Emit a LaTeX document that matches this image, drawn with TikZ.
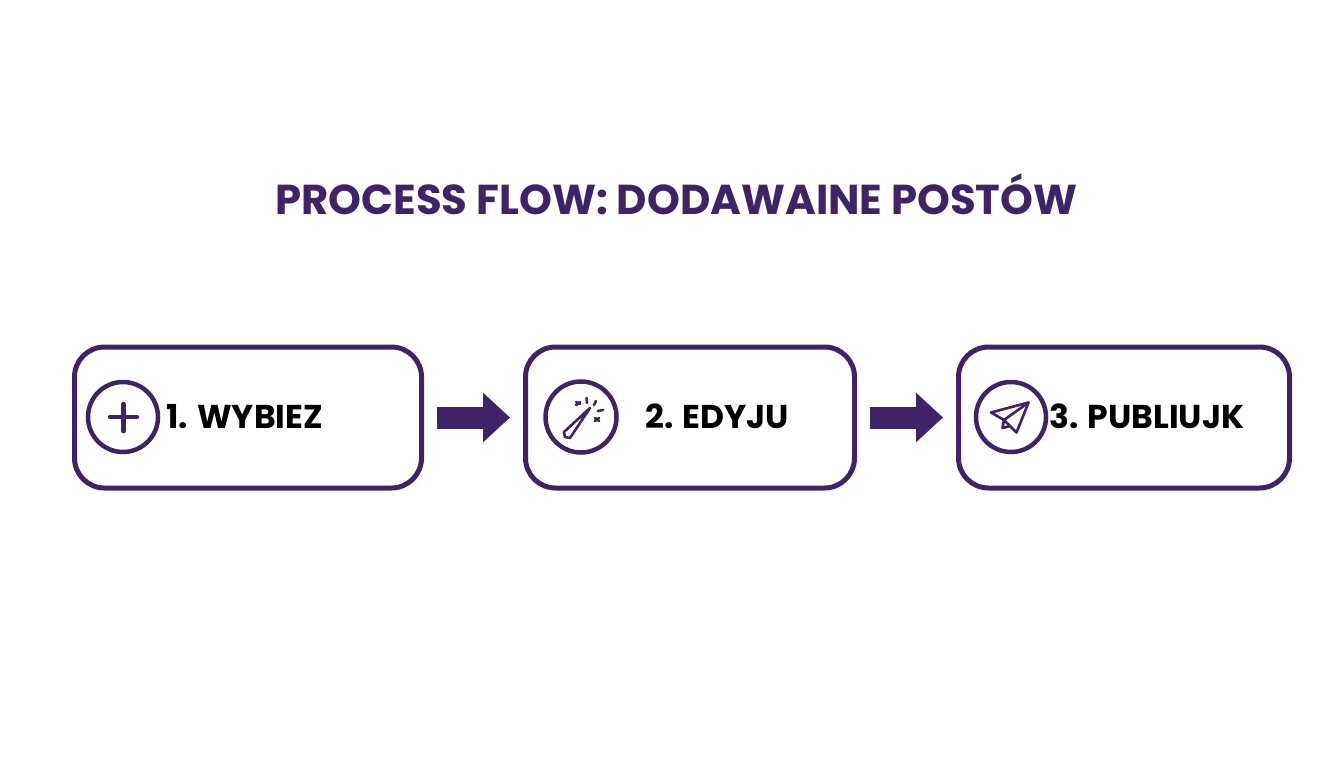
\documentclass[tikz,border=0pt]{standalone}
\usepackage{fontspec}
\setmainfont{Poppins}[BoldFont={Poppins Bold}]
\usetikzlibrary{arrows.meta}
\definecolor{flowpurple}{HTML}{3F2268}
\tikzstyle{stepbox}=[draw=flowpurple,line width=5pt,rounded corners=30pt,minimum height=141pt]
\tikzstyle{iconring}=[draw=flowpurple,line width=4.5pt,shape=circle,inner sep=0pt,minimum size=70pt]
\tikzstyle{steplabel}=[text=black,font=\bfseries\fontsize{33}{33}\selectfont,inner sep=0pt,anchor=base west]
\tikzstyle{flowarrow}=[draw=flowpurple,line width=22pt,shorten <=13pt,shorten >=13pt,-{Triangle[length=27pt,width=48pt]}]
\tikzstyle{iconline}=[draw=flowpurple,line width=2.6pt,line cap=round,line join=round]

\begin{document}
\begin{tikzpicture}[x=1pt,y=-1pt]
	\useasboundingbox (0,0) rectangle (1344,768);
	\node[text=flowpurple,font=\bfseries\fontsize{41.8}{42}\selectfont,inner sep=0pt,anchor=base] (title) at (676.5,214) {PROCESS FLOW: DODAWAINE POSTÓW};
	% boxes
	\node[stepbox,minimum width=347pt] (wybierz) at (248,417.5) {};
	\node[stepbox,minimum width=329pt] (edytuj) at (690,417.5) {};
	\node[stepbox,minimum width=331pt] (publikuj) at (1124,417.5) {};
	\draw[flowarrow] (wybierz) -- (edytuj);
	\draw[flowarrow] (edytuj) -- (publikuj);
	% icons
	\node[iconring] (plus) at (123,417) {};
	\node[iconring,minimum size=71pt] (wand) at (581,417) {};
	\node[iconring] (plane) at (1011,417) {};
	\draw[flowpurple,line width=4.5pt,line cap=round] (110,417) -- (137,417);
	\draw[flowpurple,line width=4.5pt,line cap=round] (123.5,404) -- (123.5,431);
	% wand
	\draw[iconline] (590,408) -- (564,432) -- (565,437) -- (570,438) -- cycle;
	\draw[iconline] (586.5,398) -- (587,403);
	\draw[iconline] (596,401) -- (594,405);
	\draw[iconline] (598,411) -- (603,410);
	\draw[iconline] (576,402) -- (580,404);
	\draw[iconline] (576,405) -- (580,402);
	\draw[iconline] (595,418) -- (599,421);
	\draw[iconline] (595,421) -- (599,418);
	% paper plane
	\draw[iconline] (991,412.5) -- (1028.5,402.5) -- (1016.5,432.5) -- (1004,420) -- cycle;
	\draw[iconline] (1028.5,402.5) -- (1004,420) -- (1002.5,428) -- (1010,426);
	% labels
	\node[steplabel] (step1) at (166,428.5) {1. WYBIEZ};
	\node[steplabel] (step2) at (645,428.5) {2. EDYJU};
	\node[steplabel] (step3) at (1049,428.5) {3. PUBLIUJK};
\end{tikzpicture}
\end{document}
